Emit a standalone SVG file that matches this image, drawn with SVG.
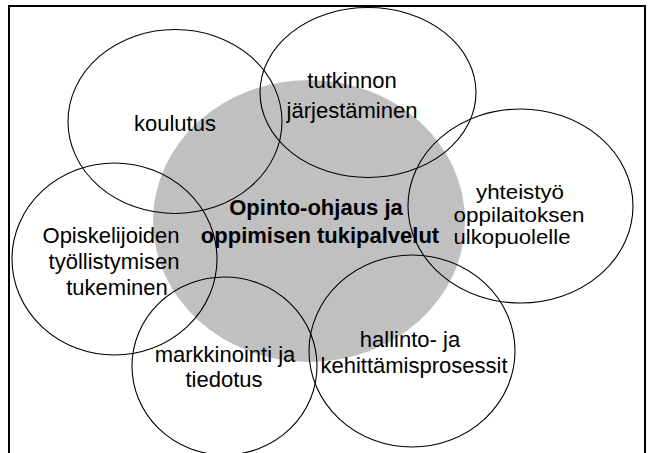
<svg xmlns="http://www.w3.org/2000/svg" width="650" height="453" viewBox="0 0 650 453">
<style>
.ring{fill:none;stroke:#000;stroke-width:1.1}
.t{font-family:"Liberation Sans",Arial,sans-serif;font-size:22px;fill:#000;text-anchor:middle}
.s{font-size:20px}
.b{font-weight:bold}
</style>
<rect x="0" y="0" width="650" height="453" fill="#fff"/>
<path d="M9,454 V6 H645 V454" fill="none" stroke="#000" stroke-width="2"/>
<g id="core">
<ellipse cx="309" cy="221" rx="156" ry="141" fill="#c0c0c0"/>
</g>
<g id="koulutus">
<ellipse class="ring" cx="175" cy="121.5" rx="107" ry="92"/>
<text class="t" x="175" y="131">koulutus</text>
</g>
<g id="tutkinnon">
<ellipse class="ring" cx="368" cy="92.5" rx="108" ry="85"/>
<text class="t" x="352" y="88">tutkinnon</text>
<text class="t" x="352" y="118">järjestäminen</text>
</g>
<g id="yhteistyo">
<ellipse class="ring" cx="520.5" cy="206" rx="112.5" ry="97"/>
<text class="t s" x="520" y="199" textLength="88" lengthAdjust="spacingAndGlyphs">yhteistyö</text>
<text class="t s" x="519" y="221.5" textLength="131" lengthAdjust="spacingAndGlyphs">oppilaitoksen</text>
<text class="t s" x="512" y="244" textLength="117" lengthAdjust="spacingAndGlyphs">ulkopuolelle</text>
</g>
<g id="opiskelijoiden">
<ellipse class="ring" cx="114.5" cy="259" rx="102.5" ry="96"/>
<text class="t" x="111" y="243">Opiskelijoiden</text>
<text class="t" x="114" y="269">työllistymisen</text>
<text class="t" x="117" y="295">tukeminen</text>
</g>
<g id="markkinointi">
<ellipse class="ring" cx="224.5" cy="366" rx="92.5" ry="89"/>
<text class="t" x="225" y="362">markkinointi ja</text>
<text class="t" x="224" y="387">tiedotus</text>
</g>
<g id="hallinto">
<ellipse class="ring" cx="412" cy="351" rx="103" ry="96"/>
<text class="t" x="410" y="347">hallinto- ja</text>
<text class="t" x="414" y="373">kehittämisprosessit</text>
</g>
<g id="core-label">
<text class="t b" x="316" y="215">Opinto-ohjaus ja</text>
<text class="t b" x="320" y="243">oppimisen tukipalvelut</text>
</g>
<g id="connectors"></g>
</svg>
